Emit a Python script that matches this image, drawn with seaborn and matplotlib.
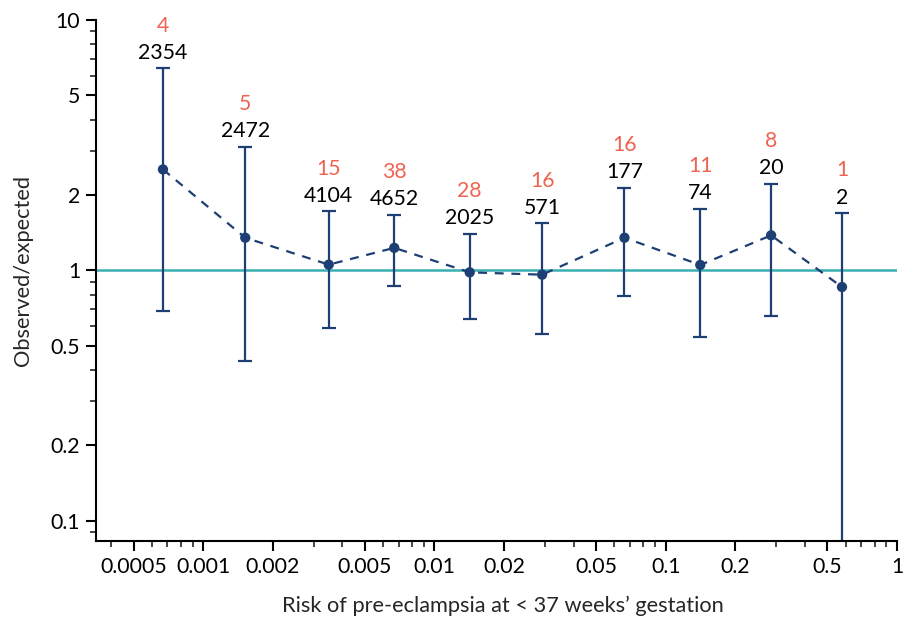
import numpy as np
import pandas as pd
import matplotlib
matplotlib.use("Agg")
import matplotlib.pyplot as plt
import matplotlib.ticker as mticker
import seaborn as sns

risk = [0.00067, 0.00152, 0.00349, 0.0067, 0.0142, 0.0292, 0.0663, 0.141, 0.2855, 0.578]
oe = [2.53, 1.35, 1.054, 1.23, 0.982, 0.961, 1.35, 1.051, 1.38, 0.858]
ci_low = [0.688, 0.435, 0.588, 0.866, 0.641, 0.557, 0.787, 0.54, 0.66, 0.02]
ci_high = [6.41, 3.12, 1.72, 1.67, 1.40, 1.54, 2.13, 1.76, 2.22, 1.69]
events = ["4", "5", "15", "38", "28", "16", "16", "11", "8", "1"]
n_total = ["2354", "2472", "4104", "4652", "2025", "571", "177", "74", "20", "2"]
x_ticks = [0.0005, 0.001, 0.002, 0.005, 0.01, 0.02, 0.05, 0.1, 0.2, 0.5, 1]
x_ticklabels = ["0.0005", "0.001", "0.002", "0.005", "0.01", "0.02", "0.05", "0.1", "0.2", "0.5", "1"]
y_ticks = [0.1, 0.2, 0.5, 1, 2, 5, 10]
y_ticklabels = ["0.1", "0.2", "0.5", "1", "2", "5", "10"]

sns.set_style("ticks")
plt.rcParams["font.family"] = ["Lato", "DejaVu Sans"]
plt.rcParams["font.size"] = 15

navy = "#1d3f74"
teal = "#3aafb3"
red = "#ef6351"

df = pd.DataFrame({"risk": risk, "oe": oe})

fig = plt.figure(figsize=(9.04, 6.17), dpi=100)
ax = fig.add_axes([0.1062, 0.1232, 0.8861, 0.8444])

ax.set_xscale("log")
ax.set_yscale("log")

ax.axhline(1, color=teal, lw=1.8, zorder=1)

yerr = np.array([np.array(oe) - np.array(ci_low), np.array(ci_high) - np.array(oe)])
ax.errorbar(risk, oe, yerr=yerr, fmt="none", ecolor=navy, elinewidth=1.6,
            capsize=5, capthick=1.6, zorder=2)

sns.lineplot(data=df, x="risk", y="oe", ax=ax, color=navy, lw=1.6,
             linestyle=(0, (4, 3.5)), zorder=3)
sns.scatterplot(data=df, x="risk", y="oe", ax=ax, color=navy, s=55,
                edgecolor="none", zorder=4)

for xi, hi, e, n in zip(risk, ci_high, events, n_total):
    ax.annotate(n, (xi, hi), xytext=(0, 7), textcoords="offset points",
                ha="center", va="baseline", fontsize=15.3, color="black")
    ax.annotate(e, (xi, hi), xytext=(0, 26.5), textcoords="offset points",
                ha="center", va="baseline", fontsize=15.3, color=red)

ax.set_xlim(0.000344, 1.0)
ax.set_ylim(0.083, 10)

ax.xaxis.set_major_locator(mticker.FixedLocator(x_ticks))
ax.xaxis.set_major_formatter(mticker.FixedFormatter(x_ticklabels))
ax.xaxis.set_minor_locator(mticker.LogLocator(base=10, subs=np.arange(2, 10)))
ax.xaxis.set_minor_formatter(mticker.NullFormatter())
ax.yaxis.set_major_locator(mticker.FixedLocator(y_ticks))
ax.yaxis.set_major_formatter(mticker.FixedFormatter(y_ticklabels))
ax.yaxis.set_minor_locator(mticker.LogLocator(base=10, subs=np.arange(2, 10)))
ax.yaxis.set_minor_formatter(mticker.NullFormatter())

ax.tick_params(axis="both", which="major", length=7.5, width=1.5, labelsize=15.3, pad=4, colors="black")
ax.tick_params(axis="both", which="minor", length=4, width=1.2)

for s in ["top", "right"]:
    ax.spines[s].set_visible(False)
for s in ["left", "bottom"]:
    ax.spines[s].set_linewidth(1.5)
    ax.spines[s].set_color("black")

ax.set_xlabel("Risk of pre-eclampsia at < 37 weeks\u2019 gestation", fontsize=15.7)
ax.set_ylabel("Observed/expected", fontsize=15.7)
ax.xaxis.set_label_coords(0.508, -0.104)
ax.yaxis.set_label_coords(-0.079, 0.519)

fig.savefig("out.png", dpi=100)
